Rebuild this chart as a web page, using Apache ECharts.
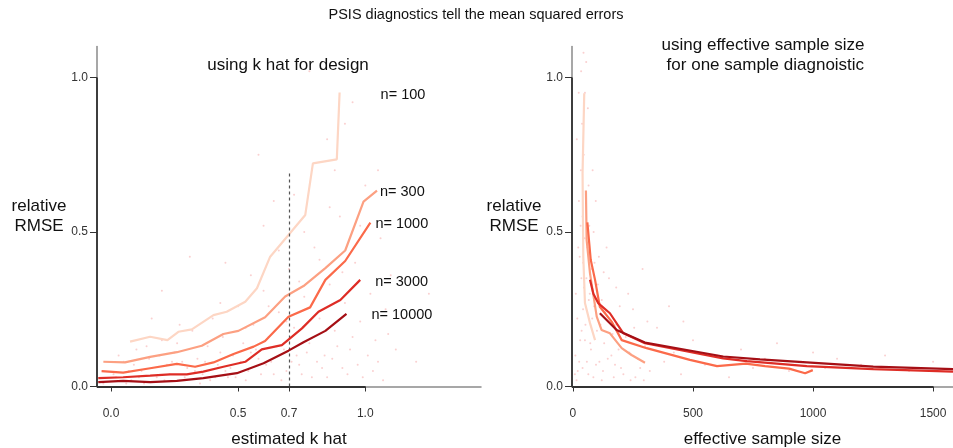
<!DOCTYPE html>
<html><head><meta charset="utf-8">
<script src="https://cdn.jsdelivr.net/npm/echarts@6/dist/echarts.min.js"></script>
<style>html,body{margin:0;padding:0;background:#fff}#c{width:953px;height:448px}</style>
</head><body><div id="c"></div>
<script>
// ---- data ----
const sizes = ['n= 100', 'n= 300', 'n= 1000', 'n= 3000', 'n= 10000'];
const colors = ['#fdd6c4', '#fca082', '#fb6a4a', '#de2d26', '#a50f15'];
const khat_n100 = [[0.075,0.145],[0.154,0.161],[0.222,0.150],[0.265,0.177],[0.318,0.185],[0.403,0.231],[0.455,0.242],[0.528,0.274],[0.574,0.318],[0.626,0.42],[0.698,0.49],[0.764,0.555],[0.794,0.722],[0.888,0.735],[0.899,0.951]];
const khat_n300 = [[-0.030,0.080],[0.055,0.078],[0.154,0.096],[0.259,0.111],[0.357,0.132],[0.442,0.170],[0.501,0.180],[0.606,0.224],[0.685,0.291],[0.757,0.325],[0.843,0.383],[0.921,0.440],[0.993,0.598],[1.046,0.634]];
const khat_n1000 = [[-0.037,0.050],[0.048,0.045],[0.154,0.059],[0.259,0.073],[0.331,0.064],[0.403,0.078],[0.482,0.105],[0.561,0.129],[0.606,0.147],[0.698,0.226],[0.783,0.256],[0.843,0.345],[0.921,0.406],[1.020,0.530]];
const khat_n3000 = [[-0.05,0.027],[0.048,0.030],[0.154,0.035],[0.232,0.039],[0.298,0.039],[0.363,0.048],[0.442,0.064],[0.528,0.080],[0.593,0.120],[0.672,0.134],[0.751,0.188],[0.816,0.242],[0.902,0.280],[0.980,0.345]];
const khat_n10000 = [[-0.05,0.014],[0.048,0.018],[0.154,0.014],[0.259,0.018],[0.363,0.027],[0.495,0.043],[0.600,0.075],[0.698,0.116],[0.757,0.143],[0.843,0.180],[0.926,0.235]];
const ess_n100 = [[47,0.949],[40,0.69],[43,0.42],[50,0.27],[71,0.205],[92,0.15]];
const ess_n300 = [[54,0.634],[57,0.474],[71,0.366],[99,0.226],[119,0.183],[154,0.172],[203,0.124],[244,0.102],[300,0.077]];
const ess_n1000 = [[60,0.531],[74,0.41],[92,0.345],[112,0.258],[161,0.21],[203,0.15],[307,0.124],[487,0.086],[600,0.066],[720,0.074],[800,0.066],[900,0.058],[967,0.043],[999,0.053]];
const ess_n3000 = [[71,0.345],[85,0.30],[105,0.27],[154,0.237],[210,0.172],[300,0.14],[626,0.091],[724,0.082],[974,0.066],[1251,0.056],[1583,0.048]];
const ess_n10000 = [[112,0.237],[182,0.183],[300,0.142],[474,0.118],[626,0.097],[779,0.088],[974,0.078],[1251,0.064],[1583,0.056]];
const khatLines = [khat_n100, khat_n300, khat_n1000, khat_n3000, khat_n10000];
const essLines = [ess_n100, ess_n300, ess_n1000, ess_n3000, ess_n10000];
const khatCut = 0.7;
const khatCutTop = 0.69;
const khatPoints = [[0.02,0.03],[0.05,0.08],[0.08,0.02],[0.10,0.12],[0.12,0.05],[0.15,0.09],[0.18,0.03],[0.20,0.15],[0.22,0.07],[0.25,0.11],[0.27,0.02],[0.30,0.06],[0.32,0.18],[0.34,0.09],[0.36,0.04],[0.38,0.13],[0.40,0.22],[0.42,0.07],[0.44,0.16],[0.46,0.03],[0.48,0.10],[0.50,0.26],[0.52,0.14],[0.54,0.05],[0.56,0.20],[0.58,0.09],[0.60,0.31],[0.62,0.16],[0.64,0.04],[0.66,0.24],[0.68,0.12],[0.70,0.38],[0.72,0.19],[0.74,0.07],[0.76,0.29],[0.78,0.14],[0.80,0.45],[0.82,0.22],[0.84,0.10],[0.86,0.33],[0.88,0.18],[0.90,0.55],[0.92,0.27],[0.94,0.12],[0.96,0.40],[0.98,0.21],[1.00,0.65],[1.02,0.30],[1.04,0.15],[1.06,0.48],[1.08,0.25],[1.10,0.36],[0.72,0.62],[0.85,0.80],[0.95,0.92],[0.60,0.52],[0.78,1.02],[0.88,0.70],[0.45,0.40],[0.66,0.44],[-0.03,0.01],[0.01,0.04],[0.07,0.05],[0.13,0.01],[0.23,0.04],[0.28,0.08],[0.35,0.01],[0.41,0.03],[0.47,0.06],[0.53,0.02],[0.57,0.12],[0.63,0.08],[0.69,0.05],[0.73,0.10],[0.79,0.03],[0.83,0.06],[0.87,0.09],[0.93,0.04],[0.97,0.07],[1.03,0.05],[0.31,0.42],[0.20,0.31],[0.58,0.75],[1.12,0.12],
  [0.03,0.10],[0.06,0.01],[0.09,0.07],[0.11,0.03],[0.14,0.13],[0.16,0.06],[0.19,0.10],[0.21,0.02],[0.24,0.08],[0.26,0.14],[0.29,0.03],[0.33,0.05],[0.37,0.08],[0.39,0.02],[0.43,0.11],[0.45,0.05],[0.49,0.03],[0.51,0.08],[0.55,0.11],[0.59,0.04],[0.61,0.07],[0.65,0.13],[0.67,0.02],[0.71,0.08],[0.75,0.04],[0.77,0.11],[0.81,0.08],[0.85,0.03],[0.89,0.13],[0.91,0.06],[0.95,0.16],[0.99,0.03],[1.01,0.10],[1.05,0.08],[1.07,0.02],[1.09,0.17],[0.62,0.26],[0.74,0.34],[0.82,0.41],[0.91,0.37],[0.69,0.21],[0.53,0.19],[0.43,0.27],[0.27,0.20],[0.16,0.22],[0.98,0.52],[1.05,0.70],[0.76,0.50],[0.64,0.60],[0.86,0.58],[0.92,0.85],[0.55,0.36],[1.15,0.22],[1.20,0.08],[1.25,0.30]];
const essPoints = [[20,0.05],[30,0.15],[35,0.35],[40,0.55],[45,0.75],[50,0.95],[55,1.05],[42,0.25],[60,0.45],[65,0.65],[70,0.30],[75,0.12],[80,0.22],[90,0.40],[100,0.18],[110,0.08],[120,0.28],[130,0.14],[150,0.35],[160,0.10],[180,0.20],[200,0.06],[220,0.16],[250,0.25],[270,0.09],[300,0.13],[320,0.05],[350,0.19],[380,0.08],[420,0.11],[450,0.04],[500,0.15],[550,0.07],[600,0.10],[650,0.03],[700,0.12],[750,0.06],[800,0.09],[850,0.14],[900,0.05],[950,0.08],[1000,0.11],[1050,0.06],[1100,0.09],[1200,0.07],[1300,0.10],[1400,0.05],[1500,0.08],[25,0.60],[38,0.85],[48,0.48],[52,0.20],[58,0.08],[68,0.52],[85,0.03],[95,0.60],[140,0.45],[170,0.03],[240,0.02],[290,0.38],[15,0.02],[28,0.42],[33,0.70],[62,0.90],[120,0.02],[190,0.12],[260,0.03],[400,0.26],[460,0.21],[180,0.32],[230,0.30],[82,0.70],[44,1.08],
  [10,0.10],[12,0.30],[18,0.22],[22,0.45],[26,0.08],[32,0.52],[36,0.18],[46,0.32],[54,0.62],[64,0.04],[72,0.14],[78,0.38],[88,0.26],[96,0.07],[104,0.33],[115,0.20],[125,0.05],[135,0.24],[145,0.09],[165,0.17],[175,0.07],[195,0.26],[210,0.04],[235,0.11],[255,0.19],[280,0.06],[295,0.02],[310,0.21],[16,0.80],[24,0.95],[34,1.02],[42,0.40],[56,0.35],[66,0.28],[86,0.50],[108,0.42],[128,0.37],[50,0.15],[40,0.06],[8,0.04]];
const yTicks = [0, 0.5, 1.0];
const khatTicks = [0, 0.5, 0.7, 1.0];
const essTicks = [0, 500, 1000, 1500];
const khatRange = [-0.055, 1.455];
const essRange = [-4, 1583];
const yRange = [0, 1.1];

// ---- chart ----
const FONT = 'Liberation Sans, Arial, sans-serif';
const chart = echarts.init(document.getElementById('c'), null, {renderer: 'canvas'});
const labelOffsets = [[37, 2], [-1, 1], [1, 1], [11, 2], [21, 1]];
const AXIS_DARK = '#333';
const AXIS_GREY = '#8a8a8a';
const yAxisBase = (idx) => ({
  type: 'value', gridIndex: idx, min: yRange[0], max: yRange[1],
  name: 'relative\nRMSE', nameLocation: 'middle', nameRotate: 0, nameGap: 40,
  nameTextStyle: {fontFamily: FONT, fontSize: 17, color: '#111', align: 'center', lineHeight: 20, padding: [10, 0, 0, 0]},
  axisLine: {show: true, onZero: false, lineStyle: {color: AXIS_GREY, width: 1.5}},
  axisTick: {show: true, length: 7, customValues: yTicks, lineStyle: {color: AXIS_DARK}},
  axisLabel: {customValues: yTicks, formatter: v => v.toFixed(1), margin: 9, fontFamily: FONT, fontSize: 12, color: '#333'},
  splitLine: {show: false}
});
const axisOverlay = (xi, xr, xLastTick) => ({
  type: 'line', xAxisIndex: xi, yAxisIndex: xi, data: [], silent: true, z: 10,
  markLine: {silent: true, symbol: 'none', label: {show: false}, animation: false,
    lineStyle: {color: AXIS_DARK, type: 'solid', width: 1.8},
    data: [
      [{coord: [xr[0], yRange[0]]}, {coord: [xLastTick, yRange[0]]}],
      [{coord: [xr[0], yRange[0]]}, {coord: [xr[0], yTicks[yTicks.length - 1]]}]
    ]}
});
const series = [];
series.push({type: 'scatter', xAxisIndex: 0, yAxisIndex: 0, data: khatPoints, symbolSize: 2, itemStyle: {color: 'rgba(240,110,110,0.4)'}, silent: true, z: 1});
series.push({type: 'scatter', xAxisIndex: 1, yAxisIndex: 1, data: essPoints, symbolSize: 2, itemStyle: {color: 'rgba(240,110,110,0.4)'}, silent: true, z: 1});
khatLines.forEach((d, i) => series.push({
  type: 'line', name: sizes[i], xAxisIndex: 0, yAxisIndex: 0, data: d, showSymbol: false, z: 3 + i,
  lineStyle: {color: colors[i], width: 2.2}, itemStyle: {color: colors[i]},
  endLabel: {show: true, formatter: sizes[i], offset: labelOffsets[i], distance: 4, fontFamily: FONT, fontSize: 14.5, color: '#111'}
}));
essLines.forEach((d, i) => series.push({
  type: 'line', name: sizes[i], xAxisIndex: 1, yAxisIndex: 1, data: d, showSymbol: false, z: 3 + i,
  lineStyle: {color: colors[i], width: 2.2}, itemStyle: {color: colors[i]}
}));
series.push({
  type: 'line', xAxisIndex: 0, yAxisIndex: 0, data: [], silent: true, z: 2,
  markLine: {silent: true, symbol: 'none', label: {show: false},
    lineStyle: {color: '#555', type: [3, 3], width: 1.2},
    data: [[{coord: [khatCut, 0]}, {coord: [khatCut, khatCutTop]}]]}
});
series.push(axisOverlay(0, khatRange, khatTicks[khatTicks.length - 1]));
series.push(axisOverlay(1, essRange, essTicks[essTicks.length - 1]));
const option = {
  animation: false,
  backgroundColor: '#fff',
  title: [
    {text: 'PSIS diagnostics tell the mean squared errors', left: 476, top: 6, padding: 0, textAlign: 'center',
      textStyle: {fontFamily: FONT, fontSize: 14.5, lineHeight: 18, fontWeight: 'normal', color: '#111'}},
    {text: 'using k hat for design', left: 288, top: 55, padding: 0, textAlign: 'center',
      textStyle: {fontFamily: FONT, fontSize: 17, lineHeight: 20, fontWeight: 'normal', color: '#111'}},
    {text: 'using effective sample size\n for one sample diagnoistic', left: 763, top: 35, padding: 0, textAlign: 'center',
      textStyle: {fontFamily: FONT, fontSize: 17, fontWeight: 'normal', color: '#111', lineHeight: 20, align: 'center'}}
  ],
  grid: [
    {left: 97, top: 46.5, width: 384, height: 340, containLabel: false, outerBoundsMode: 'none'},
    {left: 572, top: 46.5, width: 381, height: 340, containLabel: false, outerBoundsMode: 'none'}
  ],
  xAxis: [
    {type: 'value', gridIndex: 0, min: khatRange[0], max: khatRange[1],
      name: 'estimated k hat', nameLocation: 'middle', nameGap: 44,
      nameTextStyle: {fontFamily: FONT, fontSize: 17, color: '#111'},
      axisLine: {show: true, onZero: false, lineStyle: {color: AXIS_GREY, width: 1.5}},
      axisTick: {show: true, length: 5, customValues: khatTicks, lineStyle: {color: AXIS_DARK}},
      axisLabel: {customValues: khatTicks, formatter: v => v.toFixed(1), margin: 21, fontFamily: FONT, fontSize: 12, color: '#333'},
      splitLine: {show: false}},
    {type: 'value', gridIndex: 1, min: essRange[0], max: essRange[1],
      name: 'effective sample size', nameLocation: 'middle', nameGap: 44,
      nameTextStyle: {fontFamily: FONT, fontSize: 17, color: '#111'},
      axisLine: {show: true, onZero: false, lineStyle: {color: AXIS_GREY, width: 1.5}},
      axisTick: {show: true, length: 5, customValues: essTicks, lineStyle: {color: AXIS_DARK}},
      axisLabel: {customValues: essTicks, formatter: v => String(v), margin: 21, fontFamily: FONT, fontSize: 12, color: '#333'},
      splitLine: {show: false}}
  ],
  yAxis: [yAxisBase(0), yAxisBase(1)],
  series: series
};
chart.setOption(option);
</script>
</body></html>
